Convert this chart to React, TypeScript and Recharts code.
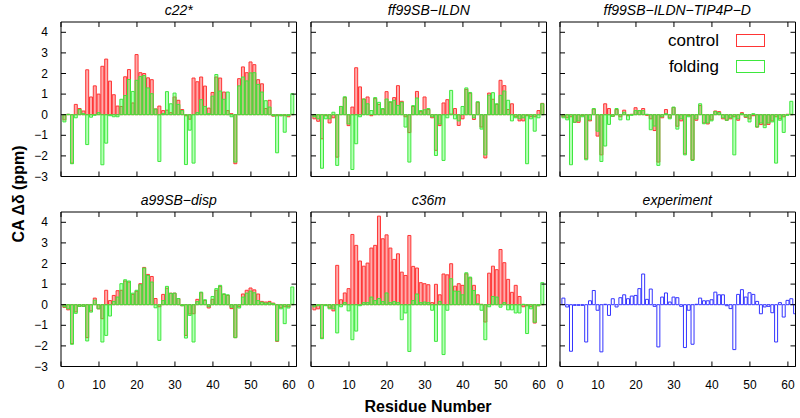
import React from 'react';
import { Bar, BarChart, XAxis, YAxis } from 'recharts';

// residue numbers (x axis)
const residues = [
  1, 2, 3, 4, 5, 6, 7, 8, 9, 10, 11, 12, 13, 14, 15, 16, 17, 18, 19, 20,
  21, 22, 23, 24, 25, 26, 27, 28, 29, 30, 31, 32, 33, 34, 35, 36, 37, 38, 39, 40,
  41, 42, 43, 44, 45, 46, 47, 48, 49, 50, 51, 52, 53, 54, 55, 56, 57, 58, 59, 60, 61,
];
// the experiment row has one extra residue at the right edge
const residuesExp = [...residues, 62];

const xTicks = [0, 10, 20, 30, 40, 50, 60];
const yTicks = [-3, -2, -1, 0, 1, 2, 3, 4];

// c22*
const c22Control = [
  -0.25, 0.02, -2.35, 0.5, 0.3, 0.18, 2.18, 0.86, 1.4, 1.0,
  2.35, 2.7, 1.63, 0.97, 0.42, 0.4, 1.84, 2.19, 0.57, 2.92,
  2.04, 2.0, 1.79, 1.7, 0.28, 0.42, 0.2, 0.22, 0.1, 0.86,
  0.7, 0.25, -0.05, -0.22, 1.78, 1.6, 1.83, 1.39, 0.32, 1.08,
  1.83, 1.78, 1.1, 0.2, 0.05, -2.38, 1.75, 2.32, 2.04, 2.56,
  2.43, 1.7, 1.5, 0.3, 0.7, -0.07, -0.05, -0.05, -0.05, -0.1, 0.02,
];
const c22Folding = [
  -0.35, 0.02, -2.38, -0.15, 0.25, 0.05, -1.45, -0.12, -0.03, 0.1,
  -2.43, -1.38, -0.05, -0.1, -0.1, 0.75, 0.93, 1.71, 1.13, 1.67,
  1.85, 1.9, 1.3, 1.02, 0.27, -2.27, 0.05, 1.12, 0.53, 1.05,
  0.5, 0.2, -2.42, -0.75, -2.35, 0.1, 0.73, 0.4, 0.05, 0.9,
  1.95, 1.15, 0.75, 1.1, -0.1, -2.3, 1.4, 1.83, 1.64, 2.03,
  2.04, 1.47, 1.1, 0.68, 0.37, -0.05, -1.85, -0.05, -0.85, -0.05, 1.02,
];

// ff99SB-ILDN
const ildnControl = [
  -0.2, -0.32, -1.17, -0.05, -0.4, -0.15, -2.06, 0.4, 0.83, -0.53,
  0.37, 2.28, 1.35, 0.76, 0.86, -0.05, 0.78, 0.5, 0.27, 1.12,
  0.6, 0.83, 1.41, 0.65, -0.1, -0.87, 0.4, 1.13, 0.15, 0.86,
  0.25, -0.15, -1.73, -0.53, 0.57, 0.73, 0.03, 0.3, -0.52, -0.2,
  1.23, 1.04, -0.23, 0.6, -0.6, -2.1, 1.05, 0.75, 0.5, 1.67,
  1.41, 0.25, 0.53, -0.1, -0.3, -0.3, -0.05, -0.1, -0.1, 0.2, 0.55,
];
const ildnFolding = [
  -0.1, -0.2, -2.6, -0.2, -0.2, 0.12, -2.46, 0.4, 0.87, -0.45,
  -2.66, -1.41, -0.1, 0.76, 0.53, 0.2, 0.83, 0.6, 0.3, 0.76,
  0.63, 0.7, 0.45, 0.6, -0.6, -2.3, 0.44, 0.81, 0.2, 0.24,
  0.3, -0.1, -1.98, -0.45, -2.22, -0.15, 1.18, -0.2, -0.3, 0.4,
  1.3, 1.08, -0.15, 0.63, -0.7, -1.95, 0.95, 1.07, 0.53, 0.94,
  1.15, 0.7, -0.3, -0.15, -0.2, -0.15, -2.38, -0.2, -0.8, -0.15, 0.53,
];

// ff99SB-ILDN-TIP4P-D
const tip4pControl = [
  -0.1, -0.15, -0.1, -0.37, -0.37, -0.05, -2.14, -0.3, 0.27, -1.04,
  -1.95, 0.53, 0.3, -0.08, 0.25, -0.1, 0.22, -0.05, 0.02, 0.34,
  0.2, 0.3, -0.03, -0.2, -0.77, -2.3, -0.15, 0.25, -0.15, 0.35,
  -0.56, -0.3, -1.9, -0.05, -2.19, -0.27, 0.45, -0.4, -0.45, -0.25,
  0.18, 0.15, -0.2, -0.27, -0.2, -0.1, -0.27, 0.1, -0.13, -0.2,
  -0.05, -0.6, -0.48, -0.5, -0.47, -0.3, -0.1, -0.2, -0.1, 0.02, 0.02,
];
const tip4pFolding = [
  -0.15, -0.25, -2.43, -0.37, -0.3, -0.1, -2.19, -0.25, 0.3, -0.8,
  -2.27, -1.52, -0.47, -0.08, 0.3, -0.25, 0.12, -0.25, -0.03, 0.2,
  0.2, 0.2, 0.02, -0.73, -0.55, -2.46, -0.1, 0.05, -0.2, 0.37,
  -0.7, -0.2, -1.95, -0.1, -2.22, -0.2, 0.53, -0.44, -0.4, -0.3,
  0.15, 0.1, -0.15, -0.27, -0.15, -1.95, -0.2, 0.05, -0.1, -0.35,
  0.05, -0.6, -0.4, -0.63, -0.4, -0.35, -2.35, -0.27, -0.86, -0.03, 0.65,
];

// a99SB-disp
const dispControl = [
  -0.13, -0.25, -1.89, -0.35, -0.08, -0.08, -1.6, -0.3, 0.32, -0.2,
  -0.68, 0.7, 0.2, 0.45, 0.68, 0.7, 1.15, 1.1, 0.5, 0.65,
  1.02, 1.81, 1.47, 1.37, 0.3, -0.1, 0.5, 0.8, 0.56, 0.56,
  0.3, -0.05, -1.49, -0.45, -0.44, 0.26, 0.58, 0.2, -0.16, 0.26,
  0.7, 0.89, 0.5, 0.45, -0.19, -1.6, -0.1, 0.52, 0.7, 0.81,
  0.72, 0.52, 0.16, 0.13, 0.16, 0.08, -1.78, -0.15, -0.1, -0.1, 0.02,
];
const dispFolding = [
  -0.1, -0.2, -1.92, -0.42, -0.08, -0.08, -1.76, -0.36, 0.22, -0.2,
  -1.81, -1.49, -0.55, 0.16, 0.37, 1.02, 1.21, 1.15, 0.56, 0.7,
  0.97, 1.78, 1.42, 1.1, -0.15, -1.73, 0.2, 0.89, 0.55, 0.56,
  0.3, -0.05, -1.62, -0.52, -1.81, 0.15, 0.61, 0.24, -0.1, 0.4,
  0.78, 0.94, 0.53, 0.48, -0.12, -1.6, -0.16, 0.37, 0.56, 0.66,
  0.58, 0.2, 0.12, 0.08, 0.1, 0.05, -1.76, -0.2, -0.92, -0.16, 0.86,
];

// c36m
const c36mControl = [
  -0.25, -0.2, -1.62, -0.03, -0.15, -0.3, 1.91, 0.24, 0.57, 0.78,
  3.41, 2.88, 2.12, 1.87, 2.02, 2.75, 2.88, 4.3, 3.2, 3.39,
  2.75, 2.2, 2.47, 1.58, 1.42, 3.36, 1.86, 1.78, 1.07, 1.02,
  0.97, 0.1, 0.99, 0.48, 1.49, 1.45, 1.99, 0.9, 1.02, 0.94,
  1.5, 1.3, 0.94, 0.48, 0.02, -0.84, 1.53, 1.87, 1.7, 2.68,
  2.04, 1.23, 0.6, 0.94, 0.4, -0.1, -0.05, -0.1, -0.89, -0.05, 0.02,
];
const c36mFolding = [
  -0.1, -0.05, -1.65, -0.05, -0.2, -0.2, -1.37, -0.1, 0.1, -0.3,
  -1.7, -1.28, -0.05, 0.1, 0.1, 0.37, 0.2, 0.3, 0.15, 0.57,
  0.1, 0.15, 0.1, -0.73, -0.4, -2.27, 0.2, 0.52, 0.1, 0.13,
  0.1, -0.27, -1.78, 0.16, -2.42, -0.27, 1.26, 0.66, 0.65, 0.48,
  1.55, 1.34, 0.69, 0.05, -0.27, -1.7, -0.1, 0.4, 0.37, -0.12,
  0.1, -0.25, -0.25, -0.4, -0.4, 0.02, -1.4, -0.2, -0.85, -0.05, 1.07,
];

// experiment
const experiment = [
  0.32, -0.11, -2.26, -0.03, -0.03, -0.03, -1.81, 0.19, 0.69, -0.27,
  -2.29, 0.02, -0.52, 0.29, -0.11, 0.34, 0.48, 0.29, 0.42, 0.45,
  0.78, 1.49, 0.26, 0.76, -0.08, -2.05, 0.37, 0.57, 0.13, 0.37,
  0.34, -0.08, -2.08, -0.27, -1.92, 0.02, 0.32, 0.19, 0.19, 0.24,
  0.61, 0.48, 0.48, -0.05, -0.19, -2.18, 0.5, 0.73, 0.37, 0.58,
  0.5, 0.16, -0.44, -0.11, -0.08, -0.39, -1.81, 0.1, -0.6, 0.21,
  0.29, -0.44,
];

const FONT = '"Liberation Sans", Arial, Helvetica, sans-serif';
const RED = '#ff3535';
const GREEN = '#3de83d';
const BLUE = '#3333ff';

// layout of the 2x3 grid (plot area positions)
const PLOT_W = 235.5;
const PLOT_H = 154.5;
const AX = 1; // axes need a non-zero size to be drawn
const MARGIN = { top: 20 - AX, right: 12 - AX, bottom: 32 - AX, left: 50 - AX };
const COL_X = [61, 311, 559.5];
const ROW_Y = [22, 212];
const TICK = 5;

const fmt = (v: number) => (v < 0 ? `\u2212${Math.abs(v)}` : `${v}`);

function BottomTick({ x, y, payload, showLabel }: any) {
  return (
    <g>
      <line x1={x} y1={y} x2={x} y2={y - TICK} stroke="#000" />
      {showLabel && (
        <text x={x} y={y + 22} textAnchor="middle" fontSize={12} fontFamily={FONT} fill="#000">
          {payload.value}
        </text>
      )}
    </g>
  );
}

function TopTick({ x, y }: any) {
  return <line x1={x} y1={y} x2={x} y2={y + TICK} stroke="#000" />;
}

function LeftTick({ x, y, payload, showLabel }: any) {
  return (
    <g>
      <line x1={x} y1={y} x2={x + TICK} y2={y} stroke="#000" />
      {showLabel && (
        <text x={x - 13} y={y + 4} textAnchor="end" fontSize={12} fontFamily={FONT} fill="#000">
          {fmt(payload.value)}
        </text>
      )}
    </g>
  );
}

function RightTick({ x, y }: any) {
  return <line x1={x} y1={y} x2={x - TICK} y2={y} stroke="#000" />;
}

interface PanelProps {
  col: number;
  row: number;
  control?: number[];
  folding?: number[];
  exp?: number[];
}

function Panel({ col, row, control, folding, exp }: PanelProps) {
  const data = exp
    ? residuesExp.map((r, i) => ({ residue: r, exp: exp[i] }))
    : residues.map((r, i) => ({ residue: r, control: control![i], folding: folding![i] }));

  return (
    <div style={{ position: 'absolute', left: COL_X[col] - MARGIN.left - AX, top: ROW_Y[row] - MARGIN.top - AX }}>
      <BarChart
        width={PLOT_W + MARGIN.left + MARGIN.right + 2 * AX}
        height={PLOT_H + MARGIN.top + MARGIN.bottom + 2 * AX}
        data={data}
        margin={MARGIN}
      >
        <XAxis
          xAxisId="a"
          dataKey="residue"
          type="number"
          domain={[0, 62]}
          ticks={xTicks}
          interval={0}
          allowDataOverflow
          height={AX}
          tickLine={false}
          tickSize={0}
          tickMargin={0}
          axisLine={{ stroke: '#000' }}
          tick={(p: any) => <BottomTick {...p} showLabel={row === 1} />}
        />
        <XAxis xAxisId="b" dataKey="residue" type="number" domain={[0, 62]} allowDataOverflow hide />
        <XAxis
          xAxisId="top"
          orientation="top"
          dataKey="residue"
          type="number"
          domain={[0, 62]}
          ticks={xTicks}
          interval={0}
          allowDataOverflow
          height={AX}
          tickLine={false}
          tickSize={0}
          tickMargin={0}
          axisLine={{ stroke: '#000' }}
          tick={(p: any) => <TopTick {...p} />}
        />
        <YAxis
          yAxisId="l"
          type="number"
          domain={[-3, 4.5]}
          ticks={yTicks}
          interval={0}
          allowDataOverflow
          width={AX}
          tickLine={false}
          tickSize={0}
          tickMargin={0}
          axisLine={{ stroke: '#000' }}
          tick={(p: any) => <LeftTick {...p} showLabel={col === 0} />}
        />
        <YAxis
          yAxisId="r"
          orientation="right"
          type="number"
          domain={[-3, 4.5]}
          ticks={yTicks}
          interval={0}
          allowDataOverflow
          width={AX}
          tickLine={false}
          tickSize={0}
          tickMargin={0}
          axisLine={{ stroke: '#000' }}
          tick={(p: any) => <RightTick {...p} />}
        />
        {exp ? (
          <Bar
            dataKey="exp"
            xAxisId="a"
            yAxisId="l"
            barSize={3}
            fill="none"
            stroke={BLUE}
            strokeWidth={1}
            isAnimationActive={false}
          />
        ) : null}
        {!exp ? (
          <Bar
            dataKey="control"
            name="control"
            xAxisId="a"
            yAxisId="l"
            barSize={3}
            fill="#ff3030"
            fillOpacity={0.4}
            stroke={RED}
            strokeWidth={1}
            isAnimationActive={false}
          />
        ) : null}
        {!exp ? (
          <Bar
            dataKey="folding"
            name="folding"
            xAxisId="b"
            yAxisId="l"
            barSize={3}
            fill="#30ff30"
            fillOpacity={0.35}
            stroke={GREEN}
            strokeWidth={1}
            isAnimationActive={false}
          />
        ) : null}
      </BarChart>
    </div>
  );
}

const titles = [
  ['c22*', 'ff99SB\u2212ILDN', 'ff99SB\u2212ILDN\u2212TIP4P\u2212D'],
  ['a99SB\u2212disp', 'c36m', 'experiment'],
];

export default function App() {
  return (
    <div style={{ position: 'fixed', left: 0, top: 0, width: 800, height: 418, background: '#fff', overflow: 'hidden' }}>
      <Panel col={0} row={0} control={c22Control} folding={c22Folding} />
      <Panel col={1} row={0} control={ildnControl} folding={ildnFolding} />
      <Panel col={2} row={0} control={tip4pControl} folding={tip4pFolding} />
      <Panel col={0} row={1} control={dispControl} folding={dispFolding} />
      <Panel col={1} row={1} control={c36mControl} folding={c36mFolding} />
      <Panel col={2} row={1} exp={experiment} />

      <svg width={800} height={418} style={{ position: 'absolute', left: 0, top: 0, pointerEvents: 'none' }}>
        {titles.map((rowTitles, r) =>
          rowTitles.map((t, c) => (
            <text
              key={`${r}-${c}`}
              x={COL_X[c] + PLOT_W / 2}
              y={ROW_Y[r] - 7}
              textAnchor="middle"
              fontSize={14}
              fontStyle="italic"
              fontFamily={FONT}
              fill="#000"
            >
              {t}
            </text>
          ))
        )}
        <text
          x={0}
          y={0}
          transform="translate(24,194) rotate(-90)"
          textAnchor="middle"
          fontSize={16}
          fontWeight="bold"
          fontFamily={FONT}
          fill="#000"
        >
          CA Δδ (ppm)
        </text>
        <text x={428} y={412} textAnchor="middle" fontSize={16} fontWeight="bold" fontFamily={FONT} fill="#000">
          Residue Number
        </text>
        {/* legend */}
        <text x={719} y={46} textAnchor="end" fontSize={17} fontFamily={FONT} fill="#000">control</text>
        <rect x={736.5} y={34.5} width={28} height={12} fill="#fff" stroke={RED} />
        <text x={719} y={72} textAnchor="end" fontSize={17} fontFamily={FONT} fill="#000">folding</text>
        <rect x={736.5} y={60.5} width={28} height={12} fill="#fff" stroke={GREEN} />
      </svg>
    </div>
  );
}
